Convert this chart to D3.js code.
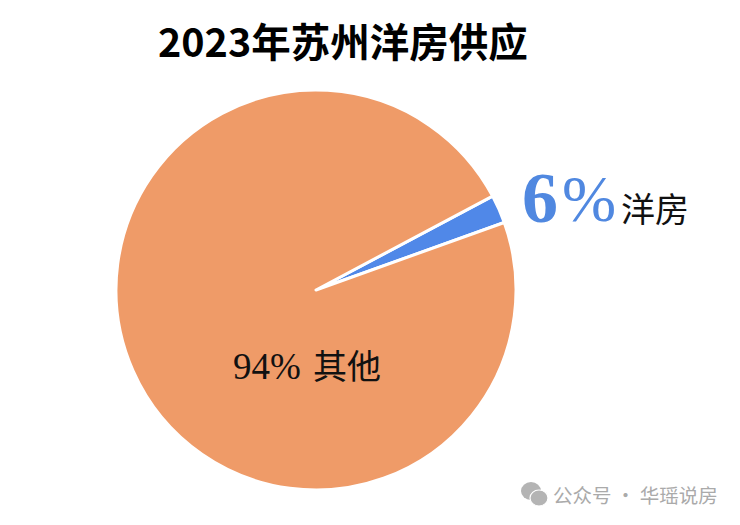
<!DOCTYPE html>
<html><head><meta charset="utf-8">
<script src="https://cdn.jsdelivr.net/npm/d3@7/dist/d3.min.js"></script>
<style>html,body{margin:0;padding:0;background:#fff}svg{display:block}</style></head>
<body><svg id="c" width="740" height="525"></svg>
<script>
const categories = ["洋房", "其他"];
const labelValues = ["6%", "94%"];
const drawnShares = [2.3, 97.7];
const colors = ["#5088e8", "#ef9b68"];
const title = "2023年苏州洋房供应";
const watermark = "公众号 · 华瑶说房";
const svg = d3.select("#c");
const cjk = "'Noto Sans CJK SC','Noto Sans',sans-serif";
const serif = "'Liberation Serif','Noto Sans CJK SC',serif";
const pie = d3.pie().sort(null).startAngle(62*Math.PI/180).endAngle((62+360)*Math.PI/180);
const arc = d3.arc().innerRadius(0).outerRadius(200);
const g = svg.append("g").attr("transform","translate(316,290)");
g.selectAll("path").data(pie(drawnShares)).join("path")
 .attr("d",arc).attr("fill",(d,i)=>colors[i]).attr("stroke","#fff").attr("stroke-width",3).attr("stroke-linejoin","round");
svg.append("text").attr("x",158).attr("y",57).attr("font-family",cjk).attr("font-weight",700).attr("font-size",39.5).attr("fill","#000").text(title);
svg.append("text").attr("x",522).attr("y",222).attr("font-family",serif).attr("font-size",72).attr("font-weight",700).attr("fill","#5088e0")
 .text(labelValues[0].replace("%",""));
svg.append("text").attr("x",562).attr("y",221).attr("font-family",serif).attr("font-size",65).attr("fill","#5088e0").text("%");
svg.append("text").attr("x",621).attr("y",222).attr("font-family",cjk).attr("font-size",34).attr("fill","#111").text(categories[0]);
svg.append("text").attr("x",233).attr("y",379).attr("font-family",serif).attr("font-size",37).attr("fill","#111").text(labelValues[1]);
svg.append("text").attr("x",313).attr("y",379).attr("font-family",cjk).attr("font-size",34).attr("fill","#111").text(categories[1]);
// watermark
const wm = svg.append("g").attr("fill","#b4b4b4");
wm.append("ellipse").attr("cx",531).attr("cy",491).attr("rx",10).attr("ry",9);
wm.append("ellipse").attr("cx",539).attr("cy",498).attr("rx",9).attr("ry",8).attr("stroke","#fff").attr("stroke-width",1.2);
svg.append("text").attr("x",553).attr("y",503).attr("font-family",cjk).attr("font-size",19.5).attr("fill","#aaa").text(watermark);
</script></body></html>
